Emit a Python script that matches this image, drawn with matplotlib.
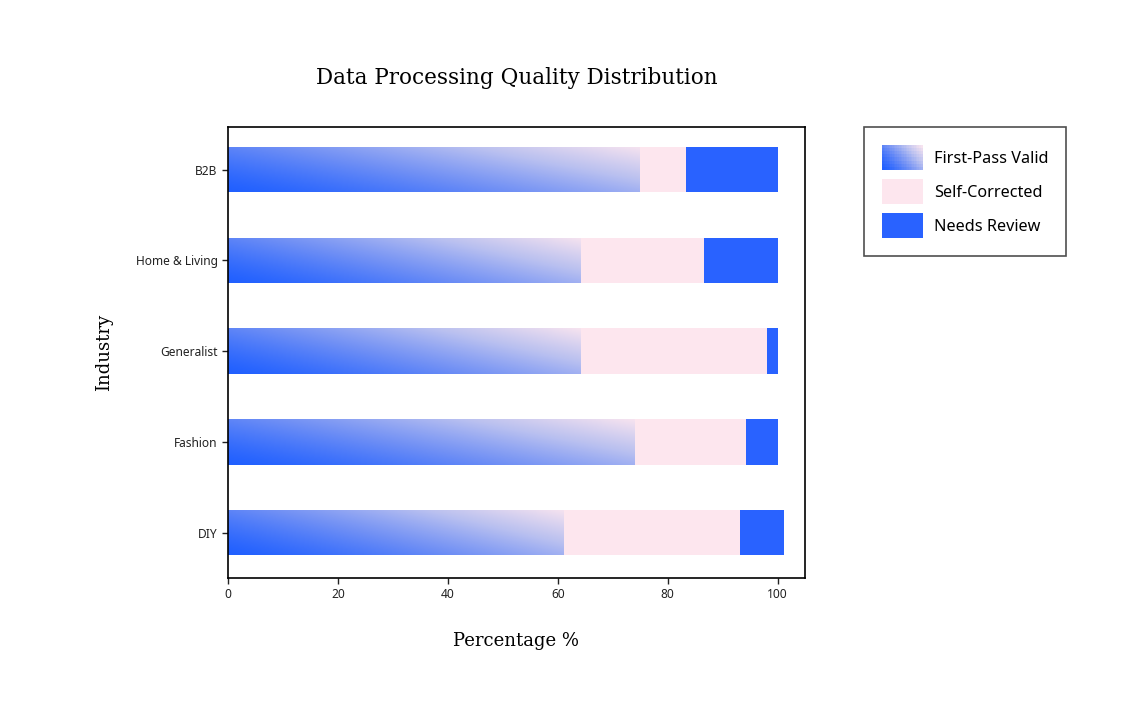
import numpy as np
import matplotlib
matplotlib.use('Agg')
import matplotlib.pyplot as plt
from matplotlib.colors import LinearSegmentedColormap
from matplotlib.patches import Rectangle
from matplotlib.collections import PatchCollection
from matplotlib.legend_handler import HandlerBase

industries = ['DIY', 'Fashion', 'Generalist', 'Home & Living', 'B2B']
first_pass = [61.1, 74.0, 64.2, 64.2, 75.0]
self_corrected = [32.0, 20.2, 33.8, 22.5, 8.3]
needs_review = [8.0, 5.8, 2.0, 13.3, 16.7]

blue = '#2962FF'
pink = '#FDE6EE'
grad_cmap = LinearSegmentedColormap.from_list('grad', ['#2160FF', '#6F8FF5', '#B9C0F0', '#F6E3EF'])

sans = ['Noto Sans', 'DejaVu Sans']
serif = ['DejaVu Serif']


def gradient_array(nx=200, ny=40):
    x = np.linspace(0, 1, nx)
    y = np.linspace(1, 0, ny)  # row 0 = top
    X, Y = np.meshgrid(x, y)
    t = 0.64 * X + 0.36 * Y
    return np.clip(t, 0, 1) ** 1.3


class GradientHandler(HandlerBase):
    def create_artists(self, legend, orig_handle, xdescent, ydescent,
                       width, height, fontsize, trans):
        nx, ny = 24, 8
        g = gradient_array(nx, ny)
        patches, vals = [], []
        for j in range(ny):
            for i in range(nx):
                patches.append(Rectangle((-xdescent + i * width / nx,
                                          -ydescent + (ny - 1 - j) * height / ny),
                                         width / nx, height / ny))
                vals.append(g[j, i])
        pc = PatchCollection(patches, cmap=grad_cmap, edgecolor='none',
                             linewidth=0, transform=trans)
        pc.set_array(np.array(vals))
        pc.set_clim(0, 1)
        return [pc]


fig = plt.figure(figsize=(11.33, 7.11), dpi=100)
ax = fig.add_axes([0.2012, 0.187, 0.5093, 0.6344])

ypos = np.arange(len(industries))
h = 0.5
g = gradient_array()
for yi, fp in zip(ypos, first_pass):
    bar = ax.barh(yi, fp, height=h, color='none', edgecolor='none')[0]
    im = ax.imshow(g, cmap=grad_cmap, vmin=0, vmax=1, aspect='auto',
                   extent=[0, fp, yi - h / 2, yi + h / 2],
                   interpolation='bilinear', zorder=2)
    im.set_clip_path(bar)

left2 = np.array(first_pass)
ax.barh(ypos, self_corrected, left=left2, height=h, color=pink, zorder=2)
left3 = left2 + np.array(self_corrected)
ax.barh(ypos, needs_review, left=left3, height=h, color=blue, zorder=2)

ax.set_xlim(0, 105)
ax.set_ylim(-0.5, 4.47)
ax.set_xticks([0, 20, 40, 60, 80, 100])
ax.set_yticks(ypos)
ax.set_yticklabels(industries)
for lab in ax.get_xticklabels() + ax.get_yticklabels():
    lab.set_family(sans)
    lab.set_fontsize(8.6)
ax.tick_params(length=4, width=1, colors='#222222')
for s in ax.spines.values():
    s.set_linewidth(1.2)

ax.set_xlabel('Percentage %', family=serif, fontsize=13, labelpad=22)
ax.set_ylabel('Industry', family=serif, fontsize=13, labelpad=16)
ax.set_title('Data Processing Quality Distribution', family=serif,
             fontsize=15.5, pad=31)

handles = [Rectangle((0, 0), 1, 1, facecolor='none'),
           Rectangle((0, 0), 1, 1, facecolor=pink, edgecolor='none'),
           Rectangle((0, 0), 1, 1, facecolor=blue, edgecolor='none')]
leg = fig.legend(handles, ['First-Pass Valid', 'Self-Corrected', 'Needs Review'],
                 loc='upper left', bbox_to_anchor=(0.7626, 0.8214),
                 handler_map={handles[0]: GradientHandler()},
                 prop={'family': sans, 'size': 11.7}, frameon=True,
                 fancybox=False, edgecolor='#222222', handlelength=2.5,
                 handleheight=2.0, borderpad=1.1, labelspacing=0.55,
                 handletextpad=0.7, borderaxespad=0)
leg.get_frame().set_linewidth(1.2)

fig.savefig('out.png', dpi=100)
